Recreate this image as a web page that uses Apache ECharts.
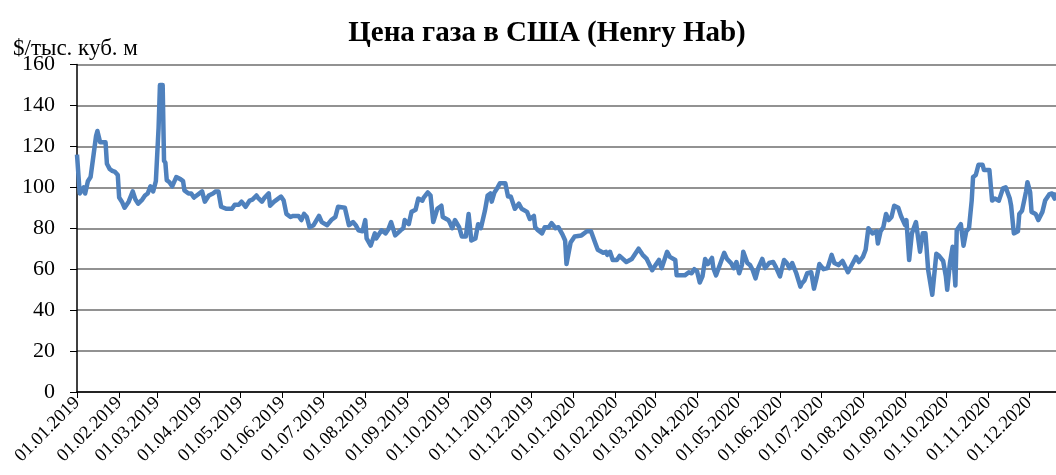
<!DOCTYPE html>
<html>
<head>
<meta charset="utf-8">
<script src="https://cdn.jsdelivr.net/npm/echarts@6/dist/echarts.min.js"></script>
<style>
  html, body { margin: 0; padding: 0; background: #fff; }
  #chart_gas { width: 1056px; height: 475px; }
</style>
</head>
<body>
<div id="chart_gas"></div>
<script>
// даты наблюдений и цена, $/тыс. куб. м
let dates = [
  '2019-01-01','2019-01-03','2019-01-04','2019-01-06','2019-01-07','2019-01-09','2019-01-11','2019-01-13','2019-01-15','2019-01-16',
  '2019-01-18','2019-01-22','2019-01-23','2019-01-25','2019-01-27','2019-01-29','2019-01-31','2019-02-01','2019-02-03','2019-02-05',
  '2019-02-08','2019-02-11','2019-02-13','2019-02-15','2019-02-18','2019-02-20','2019-02-22','2019-02-24','2019-02-26','2019-02-28',
  '2019-03-02','2019-03-03','2019-03-05','2019-03-06','2019-03-07','2019-03-08','2019-03-10','2019-03-12','2019-03-15','2019-03-18',
  '2019-03-20','2019-03-21','2019-03-24','2019-03-26','2019-03-28','2019-03-30','2019-04-03','2019-04-05','2019-04-08','2019-04-11',
  '2019-04-13','2019-04-15','2019-04-17','2019-04-21','2019-04-25','2019-04-27','2019-04-30','2019-05-02','2019-05-05','2019-05-08',
  '2019-05-10','2019-05-13','2019-05-14','2019-05-17','2019-05-19','2019-05-22','2019-05-23','2019-05-26','2019-05-28','2019-05-31',
  '2019-06-02','2019-06-04','2019-06-07','2019-06-09','2019-06-13','2019-06-15','2019-06-17','2019-06-19','2019-06-21','2019-06-24',
  '2019-06-28','2019-06-30','2019-07-04','2019-07-07','2019-07-10','2019-07-12','2019-07-17','2019-07-20','2019-07-23','2019-07-25',
  '2019-07-27','2019-07-30','2019-08-01','2019-08-02','2019-08-05','2019-08-08','2019-08-09','2019-08-13','2019-08-16','2019-08-18',
  '2019-08-20','2019-08-23','2019-08-27','2019-08-29','2019-08-30','2019-09-02','2019-09-04','2019-09-07','2019-09-09','2019-09-12',
  '2019-09-13','2019-09-16','2019-09-18','2019-09-20','2019-09-23','2019-09-26','2019-09-27','2019-10-01','2019-10-02','2019-10-04',
  '2019-10-06','2019-10-09','2019-10-11','2019-10-14','2019-10-16','2019-10-18','2019-10-21','2019-10-23','2019-10-25','2019-10-28',
  '2019-10-30','2019-11-01','2019-11-02','2019-11-04','2019-11-06','2019-11-08','2019-11-12','2019-11-14','2019-11-16','2019-11-19',
  '2019-11-22','2019-11-24','2019-11-28','2019-11-30','2019-12-03','2019-12-04','2019-12-06','2019-12-09','2019-12-11','2019-12-14',
  '2019-12-16','2019-12-19','2019-12-21','2019-12-24','2019-12-26','2019-12-27','2019-12-30','2020-01-02','2020-01-07','2020-01-11',
  '2020-01-14','2020-01-17','2020-01-19','2020-01-23','2020-01-25','2020-01-26','2020-01-28','2020-01-30','2020-02-02','2020-02-04',
  '2020-02-09','2020-02-13','2020-02-18','2020-02-21','2020-02-24','2020-02-28','2020-03-01','2020-03-04','2020-03-06','2020-03-10',
  '2020-03-12','2020-03-16','2020-03-17','2020-03-23','2020-03-26','2020-03-28','2020-03-30','2020-04-01','2020-04-03','2020-04-05',
  '2020-04-07','2020-04-09','2020-04-12','2020-04-13','2020-04-15','2020-04-18','2020-04-21','2020-04-23','2020-04-26','2020-04-28',
  '2020-04-30','2020-05-02','2020-05-04','2020-05-05','2020-05-08','2020-05-10','2020-05-12','2020-05-14','2020-05-16','2020-05-19',
  '2020-05-21','2020-05-24','2020-05-27','2020-05-29','2020-06-01','2020-06-02','2020-06-04','2020-06-06','2020-06-08','2020-06-10',
  '2020-06-13','2020-06-14','2020-06-16','2020-06-17','2020-06-19','2020-06-21','2020-06-24','2020-06-26','2020-06-28','2020-06-30',
  '2020-07-03','2020-07-06','2020-07-09','2020-07-11','2020-07-14','2020-07-17','2020-07-21','2020-07-25','2020-07-27','2020-07-29',
  '2020-08-01','2020-08-03','2020-08-05','2020-08-08','2020-08-11','2020-08-12','2020-08-14','2020-08-16','2020-08-18','2020-08-20',
  '2020-08-22','2020-08-24','2020-08-27','2020-08-29','2020-09-01','2020-09-02','2020-09-04','2020-09-06','2020-09-09','2020-09-12',
  '2020-09-14','2020-09-16','2020-09-18','2020-09-21','2020-09-24','2020-09-26','2020-09-29','2020-10-01','2020-10-02','2020-10-04',
  '2020-10-06','2020-10-08','2020-10-09','2020-10-12','2020-10-14','2020-10-16','2020-10-18','2020-10-20','2020-10-21','2020-10-23',
  '2020-10-25','2020-10-28','2020-10-29','2020-11-02','2020-11-04','2020-11-06','2020-11-09','2020-11-12','2020-11-14','2020-11-17',
  '2020-11-18','2020-11-20','2020-11-23','2020-11-24','2020-11-26','2020-11-29','2020-11-30','2020-12-02','2020-12-03','2020-12-06',
  '2020-12-08','2020-12-11','2020-12-13','2020-12-16','2020-12-18','2020-12-20','2020-12-21'
];
let prices = [
  116, 97, 98, 100, 97, 103, 105, 115, 125, 127.5,
  122, 122, 111.5, 109, 108, 107.5, 106, 95, 93, 90,
  93, 98, 94, 92, 94, 96, 97, 100.5, 98, 103,
  129, 150, 150, 113, 112, 103.5, 102.5, 100.5, 105, 104,
  103, 98.5, 97, 97, 95, 96, 98, 93, 96, 97,
  98, 98, 90.5, 89.5, 89.5, 91.5, 91.5, 93, 90.5, 93.5,
  94, 96, 95, 93, 95, 97, 91, 93, 94, 95.5,
  93.5, 87, 85.5, 86, 86, 84, 87, 85.5, 80.5, 81.5,
  86, 83, 81.5, 84, 85.5, 90.5, 90, 81.5, 83, 81.5,
  79, 78.5, 84, 75, 71.5, 77.5, 75, 79, 77.5, 79.5,
  83, 76.5, 79, 80, 84, 82, 88, 89, 94.5, 93.5,
  95, 97.5, 96, 83, 89.5, 91, 85.5, 84, 83, 80,
  84, 80.5, 76, 76, 87, 74, 75, 82, 80, 88.5,
  96, 97, 93, 97.5, 99.5, 102, 102, 95.5, 95.5, 89.5,
  92, 89.5, 88, 84.5, 86, 80.5, 79, 77.5, 80.5, 80.5,
  82.5, 80, 80.5, 77, 74, 62.5, 73, 76, 76.5, 78.5,
  78.5, 73, 69.5, 68, 68.5, 67, 68.5, 64.5, 64.5, 66.5,
  63.5, 65, 70, 67, 65, 59.5, 61.5, 64.5, 60.5, 68.5,
  66, 64.5, 57, 57, 58.5, 58, 60, 59, 53.5, 56.5,
  65, 62.5, 65.5, 60.5, 57, 62.5, 68, 65, 63, 60.5,
  63.5, 58, 62, 68.5, 63, 62, 59.5, 55.5, 60.5, 65,
  60.5, 63, 63.5, 61, 56.5, 56.5, 64.5, 63, 60.5, 63,
  58, 58.5, 51.5, 53, 54.5, 58, 58.5, 50.5, 56, 62.5,
  60, 60.5, 67, 63, 62, 64, 58.5, 63.5, 66, 63.5,
  66, 69.5, 80, 77.5, 78.5, 72.5, 78.5, 80.5, 87, 84,
  85.5, 91, 90, 86, 81.5, 84, 64.5, 77.5, 83, 68.5,
  77.5, 77.5, 59.5, 47.5, 67.5, 66.5, 64, 56.5, 50, 63,
  71, 52, 79, 82, 71.5, 78.5, 80, 93.5, 105, 106,
  111, 111, 108.5, 108.5, 93.5, 94.5, 93.5, 99.5, 100, 94.5,
  91, 77.5, 78.5, 87, 88.5, 98, 102.5, 97.5, 88, 87,
  84, 88, 93.5, 96.5, 97, 94.5, 97.5
];
let yTicks = [0, 20, 40, 60, 80, 100, 120, 140, 160];

// '2019-01-05' -> '05.01.2019'
function toLabel(s) {
  let p = s.split('-');
  return p[2] + '.' + p[1] + '.' + p[0];
}

// ось по дням, подписи только на первое число месяца
let days = [];
let start = Date.UTC(2019, 0, 1);
let end = Date.UTC(2020, 11, 21);
for (let t = start; t <= end; t += 86400000) {
  let d = new Date(t);
  let dd = ('0' + d.getUTCDate()).slice(-2);
  let mm = ('0' + (d.getUTCMonth() + 1)).slice(-2);
  days.push(dd + '.' + mm + '.' + d.getUTCFullYear());
}
let isMonthStart = (idx, val) => val.slice(0, 3) === '01.';

let myChart = echarts.init(document.getElementById('chart_gas'));
let option = {
  animation: false,
  backgroundColor: '#fff',
  title: [{
    text: 'Цена газа в США (Henry Hab)',
    left: 542,
    textAlign: 'center',
    top: 14,
    textStyle: {
      fontFamily: 'Liberation Serif',
      fontWeight: 'bold',
      fontSize: 29,
      color: '#000'
    }
  }, {
    text: '$/тыс. куб. м',
    left: 8,
    top: 32,
    textStyle: {
      fontFamily: 'Liberation Serif',
      fontWeight: 'normal',
      fontSize: 23,
      color: '#000'
    }
  }],
  grid: {
    left: 77,
    right: 0,
    top: 64.5,
    bottom: 83
  },
  xAxis: {
    type: 'category',
    boundaryGap: false,
    data: days,
    axisLine: {
      lineStyle: { color: '#000', width: 1.5 }
    },
    axisTick: {
      interval: isMonthStart,
      length: 6,
      lineStyle: { color: '#000' }
    },
    axisLabel: {
      interval: isMonthStart,
      rotate: 45,
      margin: 8,
      fontFamily: 'Liberation Serif',
      fontSize: 18.5,
      color: '#000'
    },
    splitLine: { show: false }
  },
  yAxis: {
    type: 'value',
    min: yTicks[0],
    max: yTicks[yTicks.length - 1],
    interval: yTicks[1] - yTicks[0],
    axisLine: {
      show: true,
      lineStyle: { color: '#000', width: 1.5 }
    },
    axisTick: {
      show: true,
      length: 7,
      lineStyle: { color: '#000' }
    },
    axisLabel: {
      margin: 22,
      fontFamily: 'Liberation Serif',
      fontSize: 22,
      color: '#000'
    },
    splitLine: {
      lineStyle: { color: '#6e6e6e', width: 1.5 }
    }
  },
  series: [{
    name: 'Henry Hub',
    type: 'line',
    showSymbol: false,
    symbol: 'none',
    lineStyle: { color: '#4F81BD', width: 4.5, join: 'round' },
    data: dates.map((d, i) => [toLabel(d), prices[i]])
  }]
};
myChart.setOption(option, true);

window.addEventListener('resize', () => {
  myChart.resize();
});
</script>
</body>
</html>
